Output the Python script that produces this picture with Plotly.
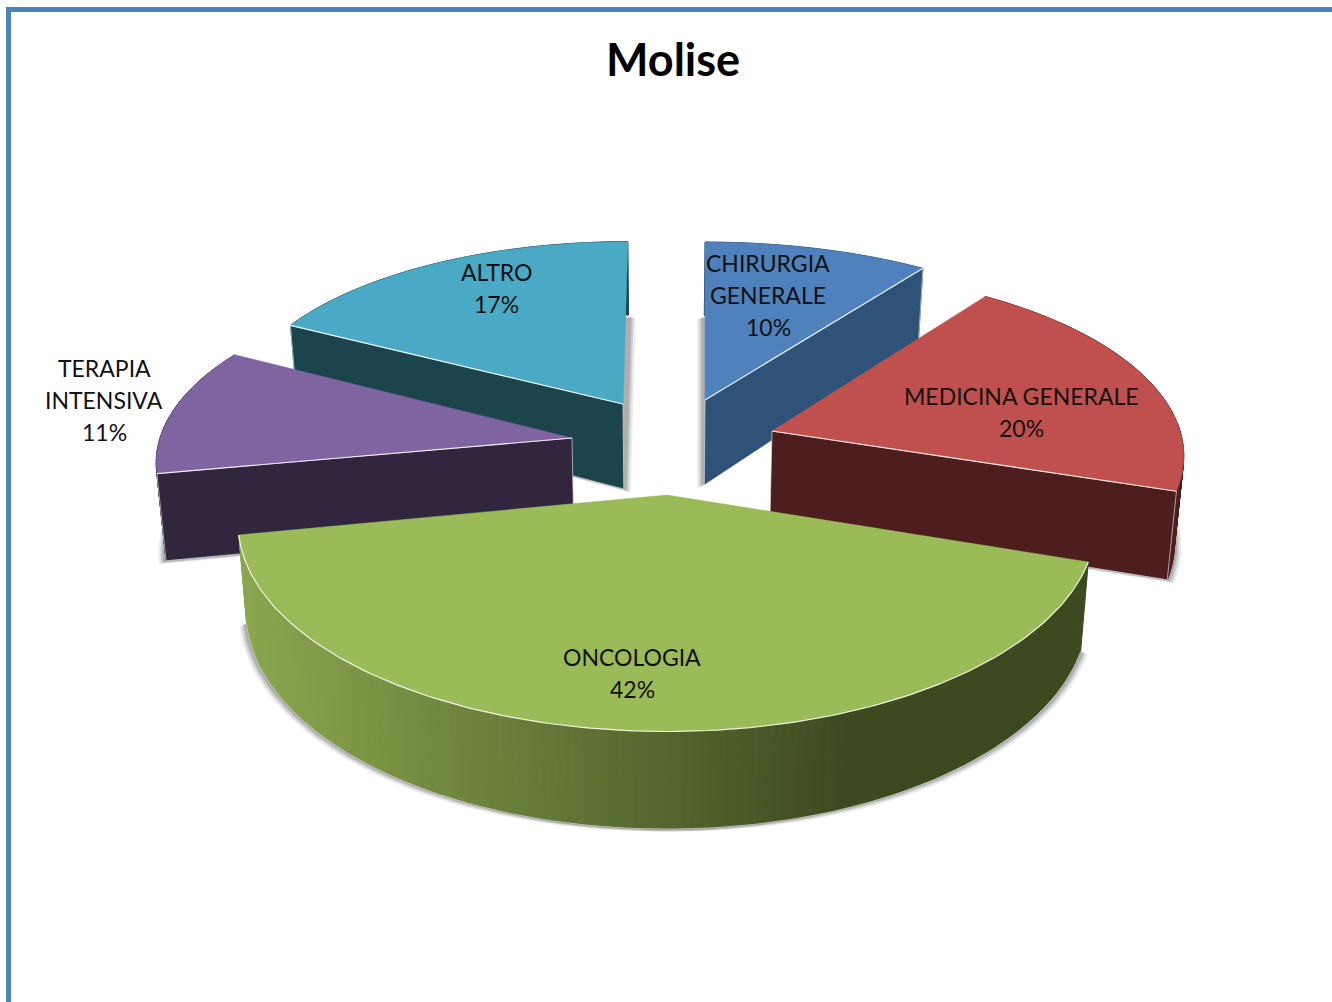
import math
import plotly.graph_objects as go

# --- data ---
categories = ["CHIRURGIA<br>GENERALE", "MEDICINA GENERALE", "ONCOLOGIA", "TERAPIA<br>INTENSIVA", "ALTRO"]
shares = [10, 20, 42, 11, 17]
title_text = "Molise"

# --- styling / layout of the exploded 3-D look ---
W, H = 1332, 1002
top_colors = ["#4f81bd", "#c0504d", "#9bbb59", "#8064a2", "#4aa9c4"]
side_colors = ["#2f5378", "#4e1e1e", None, "#32263f", "#1c444d"]
apex = [(705, 400), (772, 431), (667, 495), (572, 438), (623, 404)]
radii = [(417, 183), (408, 187), (425, 208), (412, 185), (384, 164)]
persp = [0.137, 0.137, 0.137, 0.137, 0.01]
shear = [0.0, 0.0, 0.0, 0.0, 0.03]
shadow_dir = [[-1], [1], [-1, 1], [-1], [1]]
draw_order = [4, 0, 3, 1, 2]
label_x = [768, 1021, 632, 104, 496]
label_first_y = [263, 396, 657, 368, 272]
LINE_STEP = 32
DEPTH = 85
VX = 665
FONT = "Lato, Carlito, Calibri, sans-serif"


def top_pt(i, deg):
    t = math.radians(deg)
    f = 1 - persp[i] * math.cos(t)
    dy = radii[i][1] * math.cos(t) * f
    return (apex[i][0] + radii[i][0] * math.sin(t) * f + shear[i] * dy,
            apex[i][1] - dy)


def drop(p, i, deg=None):
    f = 1.0 if deg is None else 1 - 0.137 * math.cos(math.radians(deg))
    return (VX + (p[0] - VX) * 0.982, p[1] + DEPTH * f)


def poly(fig, pts, fill, line=None, width=0.6):
    xs = [p[0] for p in pts] + [pts[0][0]]
    ys = [p[1] for p in pts] + [pts[0][1]]
    fig.add_trace(go.Scatter(x=xs, y=ys, mode="lines", fill="toself", fillcolor=fill,
                             line=dict(color=line or fill, width=width),
                             hoverinfo="skip", showlegend=False))


def lerp_hex(a, b, t):
    ca = [int(a[k:k + 2], 16) for k in (1, 3, 5)]
    cb = [int(b[k:k + 2], 16) for k in (1, 3, 5)]
    return "#" + "".join(f"{round(u + (v - u) * t):02x}" for u, v in zip(ca, cb))


def wall_color(x):
    t = min(1.0, max(0.0, (x - 246) / (850 - 246)))
    return lerp_hex("#8aa64e", "#3d4a20", t)


# slice angles from the values
total = sum(shares)
starts, ends = [], []
acc = 0
for v in shares:
    starts.append(acc / total * 360)
    acc += v
    ends.append(acc / total * 360)

fig = go.Figure()

# soft shadows: the dropped wedge, nudged sideways
for i in draw_order:
    a0, a1 = starts[i], ends[i]
    steps = max(8, int((a1 - a0) / 2))
    arc = [a0 + (a1 - a0) * k / steps for k in range(steps + 1)]
    low = [drop(apex[i], i)] + [drop(top_pt(i, d), i, d) for d in arc]
    for s in shadow_dir[i]:
        for off, alpha in ((7, 0.10), (5, 0.16), (3, 0.22)):
            poly(fig, [(x + s * off, y + off * 0.5) for x, y in low],
                 f"rgba(60,60,60,{alpha})", line="rgba(0,0,0,0)", width=0)

# slices, back to front
for i in draw_order:
    a0, a1 = starts[i], ends[i]
    steps = max(8, int(a1 - a0))
    arc = [a0 + (a1 - a0) * k / steps for k in range(steps + 1)]
    if side_colors[i] is None:
        # curved front wall with a left-to-right shading
        for d0, d1 in zip(arc[:-1], arc[1:]):
            p0, p1 = top_pt(i, d0), top_pt(i, d1)
            q0, q1 = drop(p0, i, d0), drop(p1, i, d1)
            c = wall_color((p0[0] + p1[0]) / 2)
            poly(fig, [p0, p1, q1, q0], c, line=c, width=1)
        low = [drop(top_pt(i, d), i, d) for d in arc]
        fig.add_trace(go.Scatter(x=[p[0] for p in low], y=[p[1] + 1 for p in low], mode="lines",
                                 line=dict(color="rgba(200,205,190,0.8)", width=1),
                                 hoverinfo="skip", showlegend=False))
    else:
        c = side_colors[i]
        # curved outer wall
        for d0, d1 in zip(arc[:-1], arc[1:]):
            p0, p1 = top_pt(i, d0), top_pt(i, d1)
            poly(fig, [p0, p1, drop(p1, i, d1), drop(p0, i, d0)], c, line=c, width=1)
        # visible cut face
        cut = a1 if i in (0, 1) else a0
        e = top_pt(i, cut)
        poly(fig, [apex[i], e, drop(e, i, cut), drop(apex[i], i)], c, line="#d9d9d9", width=0.7)
    # top face
    pts = [apex[i]] + [top_pt(i, d) for d in arc]
    poly(fig, pts, top_colors[i], line=top_colors[i], width=0.5)
    # white bevel on the front edge
    if side_colors[i] is None:
        rim = [top_pt(i, d) for d in arc]
    else:
        cut = a1 if i in (0, 1) else a0
        rim = [apex[i], top_pt(i, cut)]
    fig.add_trace(go.Scatter(x=[p[0] for p in rim], y=[p[1] for p in rim], mode="lines",
                             line=dict(color="rgba(255,255,255,0.85)", width=1.2),
                             hoverinfo="skip", showlegend=False))

# labels, one annotation per line to keep the line pitch of the reference
annotations = []
for name, v, lx, ly in zip(categories, shares, label_x, label_first_y):
    for k, line in enumerate(name.split("<br>") + [f"{v}%"]):
        annotations.append(dict(x=lx, y=ly + k * LINE_STEP, xref="x", yref="y", text=line, showarrow=False,
                                align="center", font=dict(family=FONT, size=23, color="#111111")))
annotations.append(dict(x=673, y=59, xref="x", yref="y", text=f"<b>{title_text}</b>", showarrow=False,
                        font=dict(family=FONT, size=45, color="#000000")))

fig.update_layout(
    width=W, height=H, margin=dict(l=0, r=0, t=0, b=0),
    paper_bgcolor="white", plot_bgcolor="white", showlegend=False,
    xaxis=dict(range=[0, W], visible=False, fixedrange=True),
    yaxis=dict(range=[H, 0], visible=False, fixedrange=True),
    annotations=annotations,
    shapes=[dict(type="rect", xref="x", yref="y", x0=8.5, y0=9.5, x1=W + 40, y1=H + 40,
                 line=dict(color="#4f81bd", width=5), fillcolor="rgba(0,0,0,0)", layer="below")],
)
fig.write_html("out.html", config={"displayModeBar": False},
               post_script="document.body.style.margin='0';document.body.style.overflow='hidden';")
